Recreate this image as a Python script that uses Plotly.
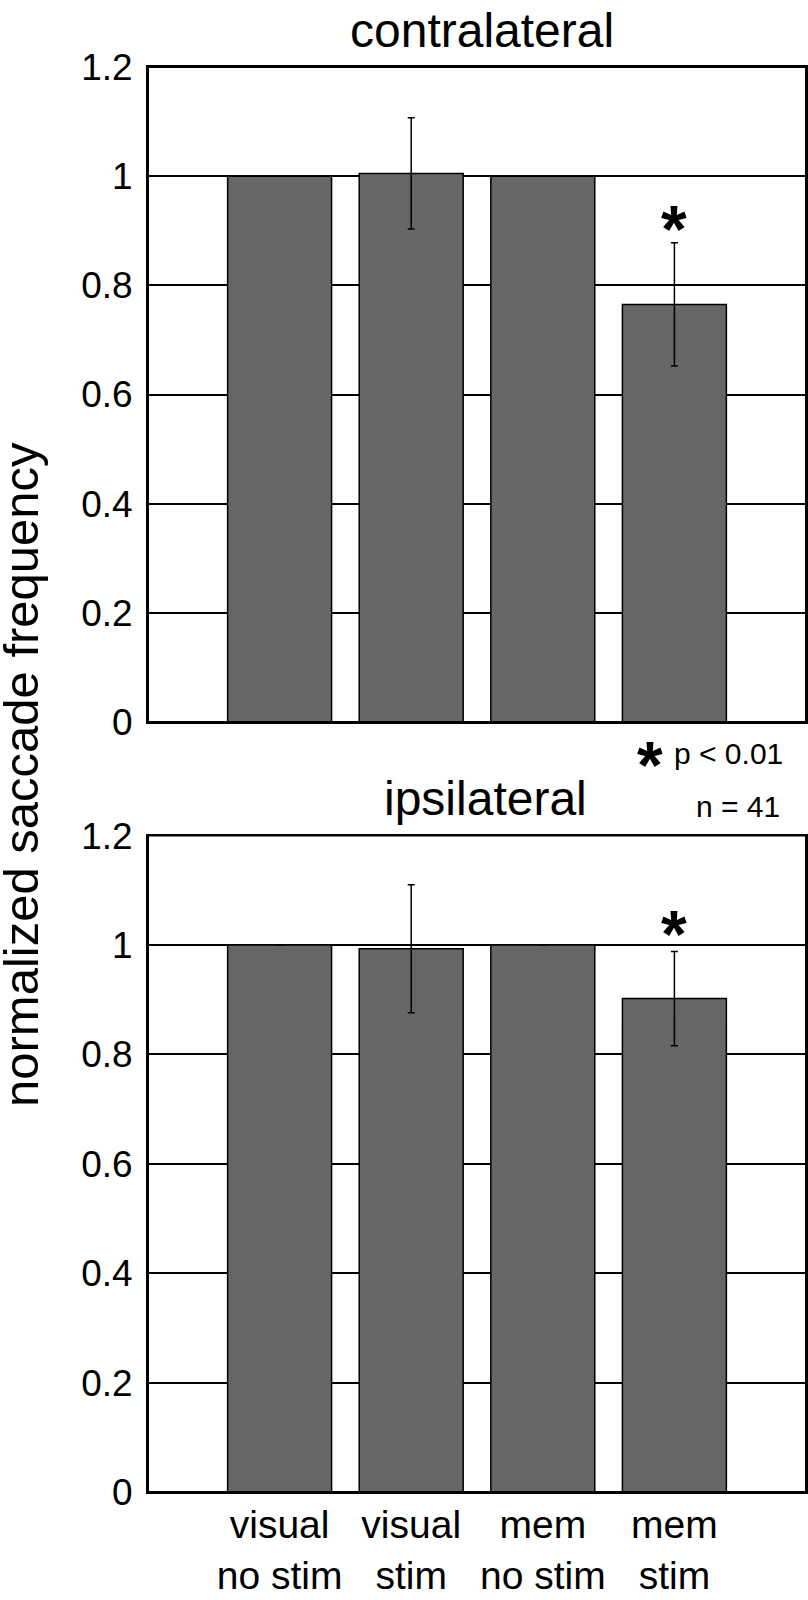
import plotly.graph_objects as go

categories = ["visual<br>no stim", "visual<br>stim", "mem<br>no stim", "mem<br>stim"]
x_pos = [0, 1, 2, 3]
contra_vals = [1.0, 1.005, 1.0, 0.765]
contra_err = [0.0, 0.102, 0.0, 0.113]
ipsi_vals = [1.0, 0.993, 1.0, 0.902]
ipsi_err = [0.0, 0.117, 0.0, 0.086]
y_ticks = [0, 0.2, 0.4, 0.6, 0.8, 1.0, 1.2]
y_ticktext = ["0", "0.2", "0.4", "0.6", "0.8", "1", "1.2"]

FONT = "Liberation Sans, Arial, sans-serif"
W, H = 808, 1600

def px_x(p):
    return p / W

def px_y(p):
    return 1 - p / H

fig = go.Figure()
bar_style = dict(marker=dict(color="#666666", line=dict(color="black", width=1.5)), width=0.79, showlegend=False)
err_style = dict(type="data", visible=True, color="black", thickness=1.5, width=3.5)

fig.add_trace(go.Bar(x=x_pos, y=contra_vals, error_y=dict(array=contra_err, **err_style), xaxis="x", yaxis="y", **bar_style))
fig.add_trace(go.Bar(x=x_pos, y=ipsi_vals, error_y=dict(array=ipsi_err, **err_style), xaxis="x2", yaxis="y2", **bar_style))

xdom = [px_x(148), px_x(806)]
ax_common = dict(range=[-1, 4], showline=True, linecolor="black", linewidth=2, mirror=True,
                 showgrid=False, zeroline=False, ticks="", tickvals=x_pos, ticktext=categories,
                 tickfont=dict(family=FONT, size=39, color="black"), domain=xdom, fixedrange=True,
                 automargin=False, ticklabelstandoff=-3)
ay_common = dict(range=[0, 1.2], showline=True, linecolor="black", linewidth=2, mirror="allticks",
                 ticks="inside", ticklen=8, tickwidth=1.5, tickcolor="black",
                 tickvals=y_ticks, ticktext=y_ticktext, showgrid=True, gridcolor="black", gridwidth=1.5,
                 zeroline=False, tickfont=dict(family=FONT, size=37, color="black"), ticklabelstandoff=6,
                 automargin=False, fixedrange=True)

fig.update_layout(
    width=W, height=H, margin=dict(l=0, r=0, t=0, b=0, autoexpand=False),
    plot_bgcolor="white", paper_bgcolor="white",
    xaxis=dict(anchor="y", showticklabels=False, **ax_common),
    yaxis=dict(anchor="x", domain=[px_y(722), px_y(67)], **ay_common),
    xaxis2=dict(anchor="y2", showticklabels=True, **ax_common),
    yaxis2=dict(anchor="x2", domain=[px_y(1492), px_y(835.6)], **ay_common),
    bargap=0.2,
)

# frame around each panel
shapes = []
for xr, yr in (("x domain", "y domain"), ("x2 domain", "y2 domain")):
    shapes.append(dict(type="rect", xref=xr, yref=yr, x0=0, x1=1, y0=0, y1=1,
                       line=dict(color="black", width=2), fillcolor="rgba(0,0,0,0)", layer="above"))
fig.update_layout(shapes=shapes)

ann = []
ann.append(dict(text="contralateral", x=px_x(482), y=px_y(30), xref="paper", yref="paper",
                xanchor="center", yanchor="middle", showarrow=False, font=dict(family=FONT, size=48, color="black")))
ann.append(dict(text="ipsilateral", x=px_x(485), y=px_y(798), xref="paper", yref="paper",
                xanchor="center", yanchor="middle", showarrow=False, font=dict(family=FONT, size=48, color="black")))
ann.append(dict(text="normalized saccade frequency", x=px_x(21), y=px_y(775), xref="paper", yref="paper",
                xanchor="center", yanchor="middle", textangle=-90, showarrow=False, borderpad=0,
                font=dict(family=FONT, size=49, color="black")))
# significance asterisks
star_font = dict(family=FONT, size=66, color="black")
ann.append(dict(text="<b>*</b>", x=3, y=0.92, xref="x", yref="y", xanchor="center", yanchor="middle",
                showarrow=False, font=star_font, yshift=-9))
ann.append(dict(text="<b>*</b>", x=3, y=1.037, xref="x2", yref="y2", xanchor="center", yanchor="middle",
                showarrow=False, font=star_font, yshift=-9))
ann.append(dict(text="<b>*</b>", x=px_x(650), y=px_y(757), xref="paper", yref="paper", xanchor="center", yanchor="middle",
                showarrow=False, font=star_font, yshift=-8))
ann.append(dict(text="p < 0.01", x=px_x(672), y=px_y(754), xref="paper", yref="paper", xanchor="left", yanchor="middle",
                showarrow=False, font=dict(family=FONT, size=30, color="black")))
ann.append(dict(text="n = 41", x=px_x(782), y=px_y(806), xref="paper", yref="paper", xanchor="right", yanchor="middle",
                showarrow=False, font=dict(family=FONT, size=30, color="black")))
fig.update_layout(annotations=ann)

fig.write_html("out.html", config={"displayModeBar": False},
               post_script="document.body.style.margin='0';document.body.style.overflow='hidden';"
                           "document.documentElement.style.overflow='hidden';")
